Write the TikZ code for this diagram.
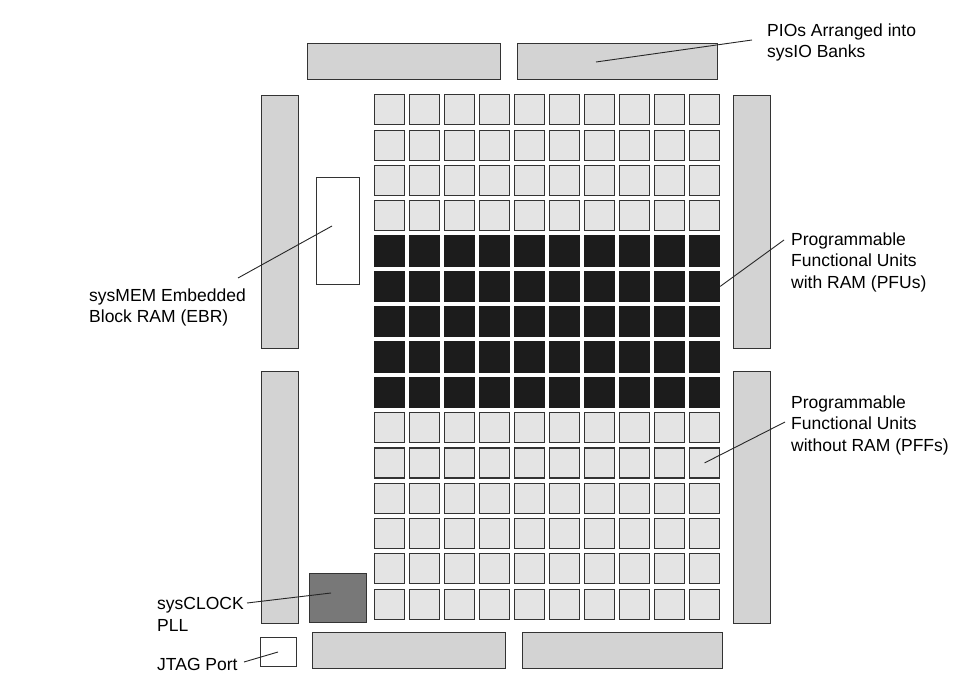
\documentclass[tikz,border=0pt]{standalone}
\usepackage{fontspec}
\setmainfont{Liberation Sans}
\definecolor{barfill}{HTML}{D3D3D3}
\definecolor{cellfill}{HTML}{E4E4E4}
\definecolor{pfufill}{HTML}{1C1C1C}
\definecolor{pllfill}{HTML}{787878}
\definecolor{edge}{HTML}{333333}
\begin{document}
\begin{tikzpicture}[x=1pt,y=-1pt,
  blk/.style={draw=edge,line width=1.2pt,inner sep=0pt,anchor=north west},
  bar/.style={blk,fill=barfill},
  cell/.style={blk,fill=cellfill,minimum width=30pt,minimum height=30pt},
  pfu/.style={blk,draw=pfufill,fill=pfufill,minimum width=30pt,minimum height=30pt},
  lbl/.style={align=left,anchor=north west,inner sep=0pt,font=\fontsize{17.5}{21.7}\selectfont},
  lead/.style={draw=black!85,line width=0.9pt}]
\useasboundingbox (0,0) rectangle (968,692);
% sysIO banks
\node[bar,minimum width=193pt,minimum height=36pt] (top1) at (307,43) {};
\node[bar,minimum width=200pt,minimum height=36pt] (top2) at (517,43) {};
\node[bar,minimum width=37pt,minimum height=253pt] (left1) at (261,95) {};
\node[bar,minimum width=37pt,minimum height=252pt] (left2) at (261,371) {};
\node[bar,minimum width=37pt,minimum height=253pt] (right1) at (733,95) {};
\node[bar,minimum width=37pt,minimum height=252pt] (right2) at (733,371) {};
\node[bar,minimum width=193pt,minimum height=36pt] (bot1) at (312,632) {};
\node[bar,minimum width=200pt,minimum height=36pt] (bot2) at (522,632) {};
% EBR, PLL and JTAG
\node[blk,fill=white,minimum width=43pt,minimum height=107pt] (ebr) at (316,177) {};
\node[blk,fill=pllfill,minimum width=57pt,minimum height=49pt] (pll) at (309,573) {};
\node[blk,fill=white,minimum width=36pt,minimum height=29pt] (jtag) at (260,637) {};
% PFF rows
\foreach \r in {0,1,2,3,9,10,11,12,13,14}
  \foreach \c in {0,...,9}
    \node[cell] (c-\r-\c) at ({374+35*\c},{94.3+35.3*\r}) {};
% PFU rows
\foreach \r in {4,...,8}
  \foreach \c in {0,...,9}
    \node[pfu] (c-\r-\c) at ({374+35*\c},{94.3+35.3*\r}) {};
% labels
\node[lbl] (pioLbl) at (767,23.2) {PIOs Arranged into\\sysIO Banks};
\node[lbl] (ebrLbl) at (89,288.2) {sysMEM Embedded\\Block RAM (EBR)};
\node[lbl] (pfuLbl) at (791,232.2) {Programmable\\Functional Units\\with RAM (PFUs)};
\node[lbl] (pffLbl) at (791,395.2) {Programmable\\Functional Units\\without RAM (PFFs)};
\node[lbl] (pllLbl) at (157,597.2) {sysCLOCK\\PLL};
\node[lbl] (jtagLbl) at (157,657.9) {JTAG Port};
% leader lines
\coordinate (pioEnd) at (752,40);
\coordinate (ebrEnd) at (238,278);
\coordinate (pfuEnd) at (784,240);
\coordinate (pffEnd) at (785,422);
\coordinate (pllEnd) at (247,603);
\coordinate (jtagEnd) at (244,662);
\draw[lead] (pioEnd) -- ([shift={(79,19)}]top2.north west);
\draw[lead] (ebrEnd) -- ([shift={(16,49)}]ebr.north west);
\draw[lead] (pfuEnd) -- (c-5-9.east);
\draw[lead] (pffEnd) -- (c-10-9.center);
\draw[lead] (pllEnd) -- ([shift={(22,20)}]pll.north west);
\draw[lead] (jtagEnd) -- ([shift={(18,15)}]jtag.north west);
\end{tikzpicture}
\end{document}
